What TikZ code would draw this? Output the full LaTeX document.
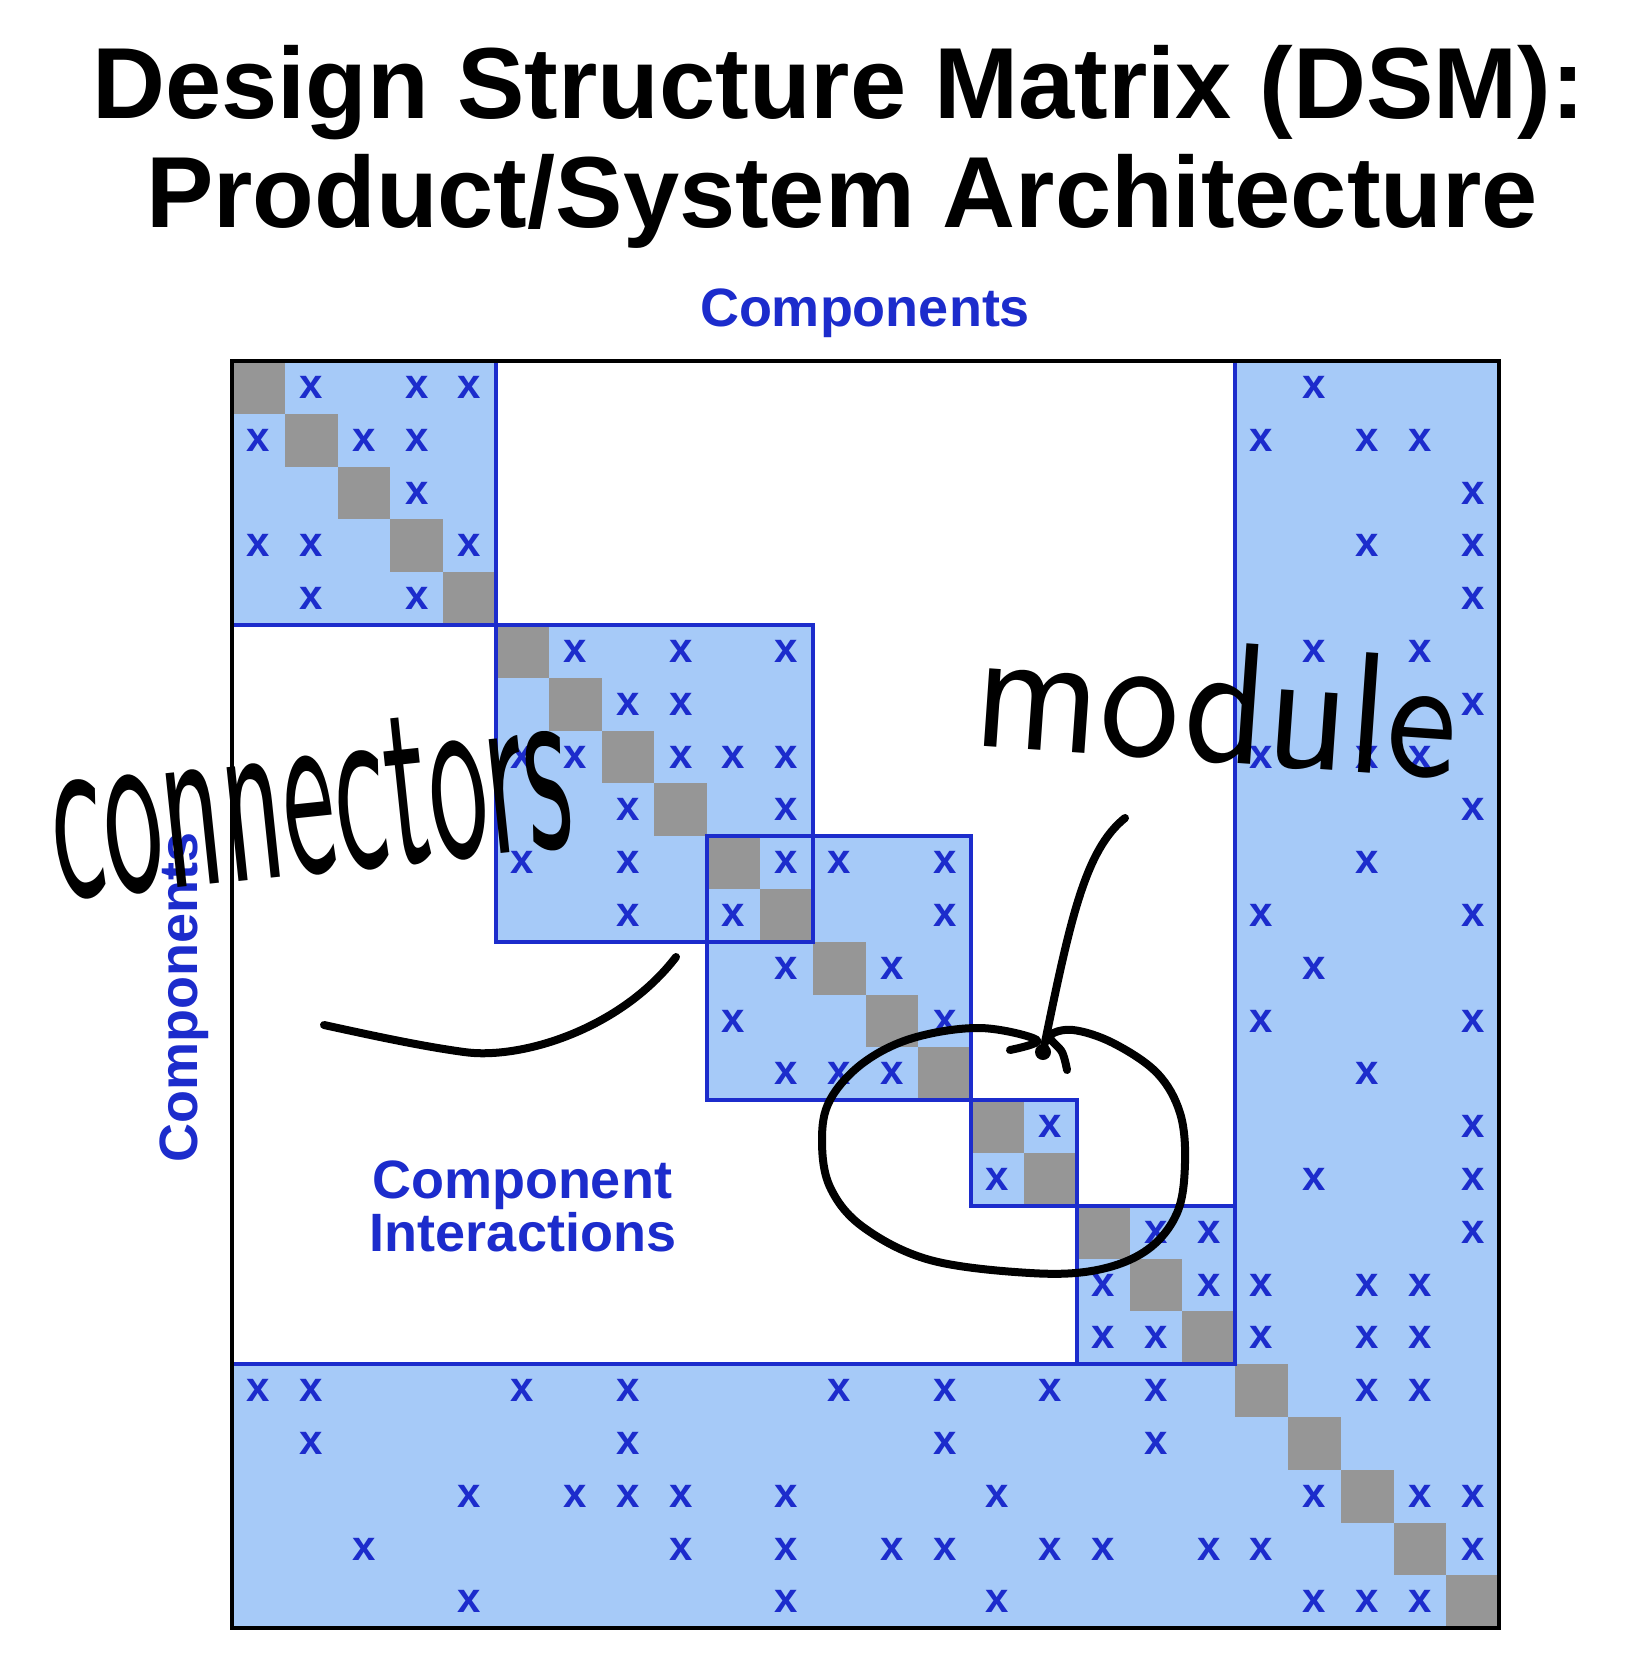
\documentclass[tikz,border=0pt]{standalone}
\usepackage{fontspec}
\usepackage{graphicx}
\setmainfont{Liberation Sans}
\definecolor{cellblue}{RGB}{166,202,248}
\definecolor{cellgray}{RGB}{150,150,150}
\definecolor{dsmblue}{RGB}{28,44,204}
\tikzset{
  xmark/.style={inner sep=0pt, text=dsmblue, font=\fontsize{42}{42}\selectfont\bfseries, anchor=center},
  titletext/.style={inner sep=0pt, anchor=base, font=\fontsize{101}{101}\selectfont\bfseries, text=black},
  labeltext/.style={inner sep=0pt, anchor=base, font=\fontsize{54}{54}\selectfont\bfseries, text=dsmblue},
  blockline/.style={draw=dsmblue, line width=3.5pt},
  ink/.style={draw=black, line width=8pt, line cap=round, line join=round},
  handtext/.style={inner sep=0pt, anchor=base west, text=black}
}
\newcommand{\cx}[1]{232+52.8*(#1)}
\newcommand{\cy}[1]{361+52.8*(#1)}
\begin{document}
\begin{tikzpicture}[x=1pt,y=-1pt]
\useasboundingbox (0,0) rectangle (1626,1654);
\fill[white] (0,0) rectangle (1626,1654);
% blue regions: blocks and bands
\foreach \a/\b in {0/5,5/11,9/14,14/16,16/19}
  \fill[cellblue] ({\cx{\a}},{\cy{\a}}) rectangle ({\cx{\b}},{\cy{\b}});
\fill[cellblue] ({\cx{19}},{\cy{0}}) rectangle ({\cx{24}},{\cy{24}});
\fill[cellblue] ({\cx{0}},{\cy{19}}) rectangle ({\cx{24}},{\cy{24}});
% diagonal cells
\foreach \i in {0,...,23}
  \fill[cellgray] ({\cx{\i}},{\cy{\i}}) rectangle ({\cx{\i+1}},{\cy{\i+1}});
% block outlines
\foreach \a/\b in {0/5,5/11,9/14,14/16,16/19}
  \draw[blockline] ({\cx{\a}},{\cy{\a}}) rectangle ({\cx{\b}},{\cy{\b}});
\draw[blockline] ({\cx{19}},{\cy{0}}) -- ({\cx{19}},{\cy{19}}) -- ({\cx{0}},{\cy{19}});
% outer frame
\draw[black, line width=4pt] ({\cx{0}},{\cy{0}}) rectangle ({\cx{24}},{\cy{24}});
% interaction marks
\foreach \r/\c in {0/1,0/3,0/4,0/20,
  1/0,1/2,1/3,1/19,1/21,1/22,
  2/3,2/23,
  3/0,3/1,3/4,3/21,3/23,
  4/1,4/3,4/23,
  5/6,5/8,5/10,5/20,5/22,
  6/7,6/8,6/23,
  7/5,7/6,7/8,7/9,7/10,7/19,7/21,7/22,
  8/7,8/10,8/23,
  9/5,9/7,9/10,9/11,9/13,9/21,
  10/7,10/9,10/13,10/19,10/23,
  11/10,11/12,11/20,
  12/9,12/13,12/19,12/23,
  13/10,13/11,13/12,13/21,
  14/15,14/23,
  15/14,15/20,15/23,
  16/17,16/18,16/23,
  17/16,17/18,17/19,17/21,17/22,
  18/16,18/17,18/19,18/21,18/22,
  19/0,19/1,19/5,19/7,19/11,19/13,19/15,19/17,19/21,19/22,
  20/1,20/7,20/13,20/17,
  21/4,21/6,21/7,21/8,21/10,21/14,21/20,21/22,21/23,
  22/2,22/8,22/10,22/12,22/13,22/15,22/16,22/18,22/19,22/23,
  23/4,23/10,23/14,23/20,23/21,23/22}
  \node[xmark] (x\r-\c) at ({\cx{\c+0.5}},{\cy{\r+0.5}}) {x};
% titles and labels
\node[titletext] (title1) at (839,118) {Design Structure Matrix (DSM):};
\node[titletext] (title2) at (842,227) {Product/System Architecture};
\node[labeltext] (colhead) at (865,326) {Components};
\node[labeltext, rotate=90] (rowhead) at (197,997) {Components};
\node[labeltext] (ci1) at (522,1198) {Component};
\node[labeltext] (ci2) at (523,1251) {Interactions};
% handwritten annotations
\node[handtext, rotate=6] (hand1) at (58,900) {\resizebox{520pt}{145pt}{\sffamily connectors}};
\node[handtext, rotate=-4] (hand2) at (971,745) {\resizebox{484pt}{120pt}{\sffamily module}};
\coordinate (contail) at (676,957);
\coordinate (conmid) at (464,1052);
\coordinate (conend) at (324,1025);
\draw[ink] (contail) .. controls (620,1030) and (520,1060) .. (conmid)
                     .. controls (420,1046) and (370,1035) .. (conend);
\coordinate (modtail) at (1125,818);
\coordinate (modhead) at (1043,1052);
\draw[ink] (modtail) .. controls (1085,850) and (1070,920) .. (modhead);
\fill[black] (modhead) circle (8);
\draw[ink] plot[smooth, tension=0.6] coordinates {(1010,1050) (1037,1040) (980,1028) (913,1038) (863,1063) (830,1100) (822,1140) (830,1187) (863,1227) (930,1260) (1030,1273) (1097,1270) (1147,1250) (1177,1213) (1185,1163) (1180,1113) (1157,1073) (1113,1043) (1073,1030) (1050,1036) (1062,1052) (1067,1070)};
\end{tikzpicture}
\end{document}
